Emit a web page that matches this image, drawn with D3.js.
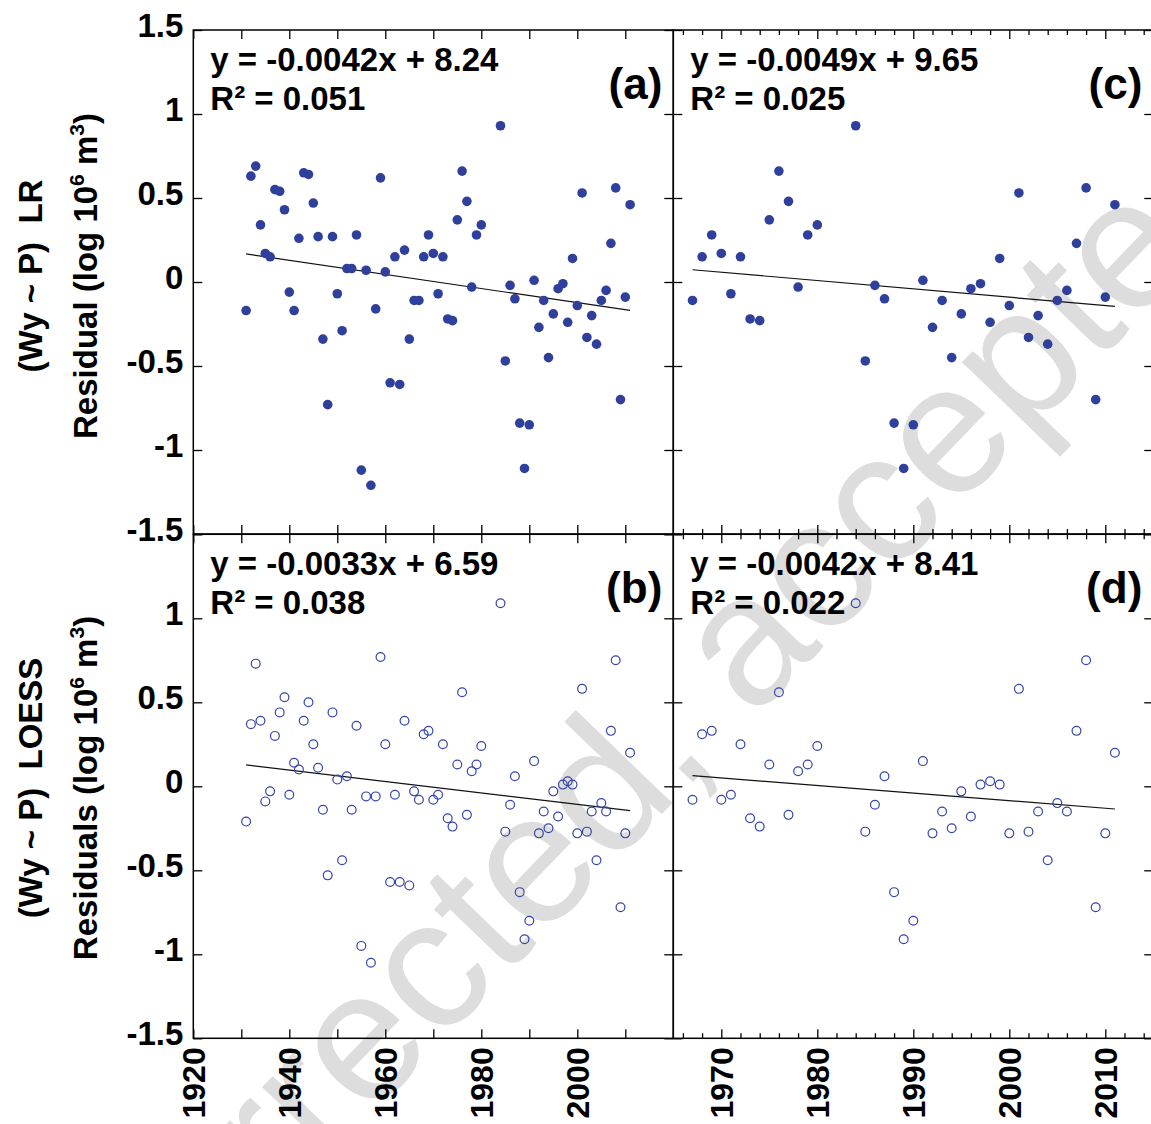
<!DOCTYPE html>
<html>
<head>
<meta charset="utf-8">
<script src="https://cdn.jsdelivr.net/npm/d3@7"></script>
<style>
  body { margin: 0; background: #fff; }
  svg { display: block; font-family: "Liberation Sans", Arial, sans-serif; }
</style>
</head>
<body>
<svg id="chart"></svg>
<script>
// years with data (1981-1983 missing)
const years = [
  1931, 1932, 1933, 1934, 1935, 1936, 1937, 1938, 1939, 1940,
  1941, 1942, 1943, 1944, 1945, 1946, 1947, 1948, 1949, 1950,
  1951, 1952, 1953, 1954, 1955, 1956, 1957, 1958, 1959, 1960,
  1961, 1962, 1963, 1964, 1965, 1966, 1967, 1968, 1969, 1970,
  1971, 1972, 1973, 1974, 1975, 1976, 1977, 1978, 1979, 1980,
  1984, 1985, 1986, 1987, 1988, 1989, 1990, 1991, 1992, 1993,
  1994, 1995, 1996, 1997, 1998, 1999, 2000, 2001, 2002, 2003,
  2004, 2005, 2006, 2007, 2008, 2009, 2010, 2011
];

// (Wy ~ P) LR residuals
const lrResid = [
  -0.17, 0.63, 0.69, 0.34, 0.17, 0.15, 0.55, 0.54, 0.43, -0.06,
  -0.17, 0.26, 0.65, 0.64, 0.47, 0.27, -0.34, -0.73, 0.27, -0.07,
  -0.29, 0.08, 0.08, 0.28, -1.12, 0.07, -1.21, -0.16, 0.62, 0.06,
  -0.60, 0.15, -0.61, 0.19, -0.34, -0.11, -0.11, 0.15, 0.28, 0.17,
  -0.07, 0.15, -0.22, -0.23, 0.37, 0.66, 0.48, -0.03, 0.28, 0.34,
  0.93, -0.47, -0.02, -0.10, -0.84, -1.11, -0.85, 0.01, -0.27, -0.11,
  -0.45, -0.19, -0.04, -0.01, -0.24, 0.14, -0.14, 0.53, -0.33, -0.20,
  -0.37, -0.11, -0.05, 0.23, 0.56, -0.70, -0.09, 0.46
];

// (Wy ~ P) LOESS residuals
const loessResid = [
  -0.21, 0.37, 0.73, 0.39, -0.09, -0.03, 0.30, 0.44, 0.53, -0.05,
  0.14, 0.10, 0.39, 0.50, 0.25, 0.11, -0.14, -0.53, 0.44, 0.04,
  -0.44, 0.06, -0.14, 0.36, -0.95, -0.06, -1.05, -0.06, 0.77, 0.25,
  -0.57, -0.05, -0.57, 0.39, -0.59, -0.03, -0.08, 0.31, 0.33, -0.08,
  -0.05, 0.25, -0.19, -0.24, 0.13, 0.56, -0.17, 0.09, 0.13, 0.24,
  1.09, -0.27, -0.11, 0.06, -0.63, -0.91, -0.80, 0.15, -0.28, -0.15,
  -0.25, -0.03, -0.18, 0.01, 0.03, 0.01, -0.28, 0.58, -0.27, -0.15,
  -0.44, -0.10, -0.15, 0.33, 0.75, -0.72, -0.28, 0.20
];

// linear trend end points [year, value]
const trendA = [[1931, 0.167], [2011, -0.169]];
const trendB = [[1931, 0.127], [2011, -0.145]];
const trendC = [[1967, 0.073], [2011, -0.145]];
const trendD = [[1967, 0.063], [2011, -0.135]];

const equations = ['y = -0.0042x + 8.24', 'y = -0.0033x + 6.59', 'y = -0.0049x + 9.65', 'y = -0.0042x + 8.41'];
const rSquared = ['R² = 0.051', 'R² = 0.038', 'R² = 0.025', 'R² = 0.022'];
const panelLabels = ['(a)', '(b)', '(c)', '(d)'];

const yTicks = [-1.5, -1, -0.5, 0, 0.5, 1, 1.5];
const leftYearTicks = [1920, 1930, 1940, 1950, 1960, 1970, 1980, 1990, 2000, 2010];
const rightYearTicks = [1970, 1980, 1990, 2000, 2010];
const rightMinorTicks = [1966, 1968, 1972, 1974, 1976, 1978, 1982, 1984, 1986, 1988, 1992, 1994, 1996, 1998, 2002, 2004, 2006, 2008, 2012, 2014];

const width = 1151, height = 1124;
const colX = [[193.3, 673.3], [673.3, 1153.3]];
const rowY = [[30, 534], [534.3, 1038.3]];
const blue = '#2f3f9c';

const svg = d3.select('#chart')
  .attr('width', width)
  .attr('height', height);

// watermark
svg.append('text')
  .attr('transform', 'translate(-19,1519) rotate(-46)')
  .attr('font-size', 185)
  .attr('fill', '#dddddd')
  .text('Uncorrected, accepted manuscript');

const panels = [
  { col: 0, row: 0, values: lrResid, from: 1931, domain: [1920, 2020], trend: trendA, filled: true },
  { col: 0, row: 1, values: loessResid, from: 1931, domain: [1920, 2020], trend: trendB, filled: false },
  { col: 1, row: 0, values: lrResid, from: 1967, domain: [1965, 2015], trend: trendC, filled: true },
  { col: 1, row: 1, values: loessResid, from: 1967, domain: [1965, 2015], trend: trendD, filled: false }
];

const styleAxis = (sel, fontSize) => {
  sel.attr('font-size', fontSize).attr('font-family', null).attr('font-weight', 'bold');
  sel.select('.domain').remove();
  sel.selectAll('.tick line').attr('stroke', '#000').attr('stroke-width', 1.3);
  sel.selectAll('.tick text').attr('fill', '#000');
};

panels.forEach((p, i) => {
  const [x0, x1] = colX[p.col];
  const [y0, y1] = rowY[p.row];
  const x = d3.scaleLinear().domain(p.domain).range([x0, x1]);
  const y = d3.scaleLinear().domain([-1.5, 1.5]).range([y1, y0]);
  const g = svg.append('g');
  const major = p.col === 0 ? leftYearTicks : rightYearTicks;

  // trend line
  g.append('path')
    .datum(p.trend)
    .attr('fill', 'none')
    .attr('stroke', '#111')
    .attr('stroke-width', 1.2)
    .attr('d', d3.line().x(d => x(d[0])).y(d => y(d[1])));

  // points
  const pts = years.map((yr, k) => ({ yr, v: p.values[k] })).filter(d => d.yr >= p.from);
  g.selectAll('circle')
    .data(pts)
    .enter()
    .append('circle')
    .attr('cx', d => x(d.yr))
    .attr('cy', d => y(d.v))
    .attr('r', p.filled ? 4.8 : 4.4)
    .attr('fill', p.filled ? blue : 'none')
    .attr('stroke', p.filled ? 'none' : '#3545a8')
    .attr('stroke-width', 1.2);

  // y axes (ticks inward)
  const yFmt = d => (p.col === 0 && !(p.row === 1 && d === 1.5)) ? String(d) : '';
  const yl = g.append('g')
    .attr('transform', `translate(${x0},0)`)
    .call(d3.axisLeft(y).tickValues(yTicks).tickSize(-9).tickPadding(10).tickFormat(yFmt));
  styleAxis(yl, 33);
  yl.selectAll('.tick text').attr('dy', '0.2em');

  const yr = g.append('g')
    .attr('transform', `translate(${x1},0)`)
    .call(d3.axisRight(y).tickValues(yTicks).tickSize(-9).tickFormat(''));
  styleAxis(yr, 33);

  // x axes
  const xb = g.append('g')
    .attr('transform', `translate(0,${y1})`)
    .call(d3.axisBottom(x).tickValues(major).tickSize(-9).tickPadding(8)
      .tickFormat(d => (p.row === 1 && (p.col === 1 || d % 20 === 0)) ? String(d) : ''));
  styleAxis(xb, 32);
  xb.selectAll('.tick text')
    .attr('transform', 'rotate(-90)')
    .attr('text-anchor', 'end')
    .attr('x', -9)
    .attr('y', 0)
    .attr('dy', '0.36em');

  const xt = g.append('g')
    .attr('transform', `translate(0,${y0})`)
    .call(d3.axisTop(x).tickValues(major).tickSize(-9).tickFormat(''));
  styleAxis(xt, 32);

  if (p.col === 1) {
    const mb = g.append('g')
      .attr('transform', `translate(0,${y1})`)
      .call(d3.axisBottom(x).tickValues(rightMinorTicks).tickSize(-5).tickFormat(''));
    styleAxis(mb, 32);
    const mt = g.append('g')
      .attr('transform', `translate(0,${y0})`)
      .call(d3.axisTop(x).tickValues(rightMinorTicks).tickSize(-5).tickFormat(''));
    styleAxis(mt, 32);
  }

  // frame
  g.append('rect')
    .attr('x', x0).attr('y', y0)
    .attr('width', x1 - x0).attr('height', y1 - y0)
    .attr('fill', 'none')
    .attr('stroke', '#000')
    .attr('stroke-width', 1.5);

  // equation and panel label
  g.append('text')
    .attr('x', x0 + 17).attr('y', y0 + 41)
    .attr('font-size', 33).attr('font-weight', 'bold')
    .text(equations[i]);
  g.append('text')
    .attr('x', x0 + 17).attr('y', y0 + 80)
    .attr('font-size', 33).attr('font-weight', 'bold')
    .text(rSquared[i]);
  g.append('text')
    .attr('x', x1 - 11).attr('y', y0 + 69)
    .attr('text-anchor', 'end')
    .attr('font-size', 44).attr('font-weight', 'bold')
    .text(panelLabels[i]);
});

// y axis titles
const titles = [
  { line1: '(Wy ~ P)  LR', line2: 'Residual', cy: 276 },
  { line1: '(Wy ~ P)  LOESS', line2: 'Residuals', cy: 788 }
];
titles.forEach(t => {
  svg.append('text')
    .attr('transform', `translate(42,${t.cy}) rotate(-90)`)
    .attr('text-anchor', 'middle')
    .attr('font-size', 33).attr('font-weight', 'bold')
    .style('white-space', 'pre')
    .text(t.line1);
  const t2 = svg.append('text')
    .attr('transform', `translate(97,${t.cy}) rotate(-90)`)
    .attr('text-anchor', 'middle')
    .attr('font-size', 33).attr('font-weight', 'bold');
  t2.append('tspan').text(t.line2 + ' (log 10');
  t2.append('tspan').attr('font-size', 21).attr('dy', -13).text('6');
  t2.append('tspan').attr('dy', 13).text(' m');
  t2.append('tspan').attr('font-size', 21).attr('dy', -13).text('3');
  t2.append('tspan').attr('dy', 13).text(')');
});
</script>
</body>
</html>
